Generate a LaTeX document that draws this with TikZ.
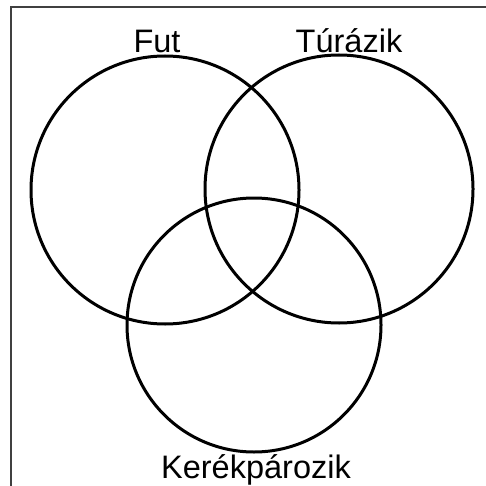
\documentclass[tikz,border=0pt]{standalone}
\usepackage{fontspec}
\setmainfont{Liberation Sans}
\begin{document}
\begin{tikzpicture}[x=1pt,y=-1pt,
  setc/.style={draw=black,line width=3pt},
  lbl/.style={font=\fontsize{32.5}{32.5}\selectfont,anchor=base,inner sep=0pt}]
\useasboundingbox (0,0) rectangle (486,486);
\draw[line width=2.8pt,black!75] (11,490) -- (11,7) -- (490,7);
\node[setc,circle,minimum size=268pt,inner sep=0pt] (fut) at (165,190) {};
\node[setc,circle,minimum size=268pt,inner sep=0pt] (tur) at (339,189) {};
\node[setc,circle,minimum size=254pt,inner sep=0pt] (ker) at (254,325) {};
\node[lbl] (tfut) at (157,53) {Fut};
\node[lbl] (ttur) at (349,53) {Túrázik};
\node[lbl] (tker) at (256,478) {Kerékpározik};
\end{tikzpicture}
\end{document}
